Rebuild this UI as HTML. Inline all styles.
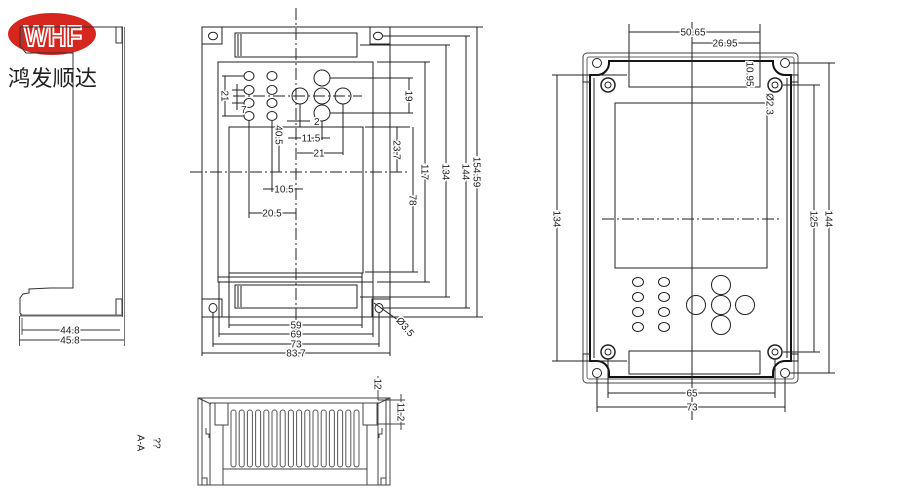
<!DOCTYPE html>
<html><head><meta charset="utf-8"><style>
html,body{margin:0;padding:0;background:#fff;}
svg{display:block;}
text{font-family:"Liberation Sans",sans-serif;font-size:10px;fill:#222;}
.h{stroke:#fff;stroke-width:3;paint-order:stroke;}
</style></head><body>
<svg width="900" height="500" viewBox="0 0 900 500" xmlns="http://www.w3.org/2000/svg">
<rect width="900" height="500" fill="#fff"/>

<!-- LOGO -->
<ellipse cx="52" cy="34" rx="44" ry="21" fill="#d6261e"/>
<text x="53" y="46" text-anchor="middle" textLength="58" lengthAdjust="spacingAndGlyphs" style="font-size:29px;font-weight:bold;fill:none;stroke:#fff;stroke-width:2">WHF</text>
<text x="8" y="86" textLength="89" lengthAdjust="spacingAndGlyphs" style="font-family:'Liberation Sans','Noto Sans CJK SC',sans-serif;font-size:22px;fill:#222">鸿发顺达</text>

<!-- LEFT SIDE VIEW -->
<g fill="none" stroke="#333" stroke-width="1">
<line x1="20" y1="27" x2="123" y2="27"/>
<line x1="122.5" y1="27" x2="122.5" y2="317" stroke="#555"/>
<line x1="124.5" y1="27" x2="124.5" y2="346" stroke="#777"/>
<path d="M20,27 V46 L26,53 H73 V288 H50 L29,289 V293 L23,294 L20,298 V313 L22,315"/>
<path d="M23,29 V44" stroke="#555"/>
<rect x="116" y="27" width="6" height="16"/>
<rect x="116" y="299" width="6" height="16"/>
<line x1="20" y1="315.5" x2="122" y2="315.5" stroke="#666" stroke-width="2"/>
<line x1="19.5" y1="316" x2="19.5" y2="346" stroke="#555"/>
<line x1="22" y1="318" x2="22" y2="335" stroke="#555"/>
<line x1="22" y1="330" x2="120" y2="330"/>
<line x1="19.5" y1="340" x2="124" y2="340"/>
</g>
<text x="70" y="333.5" text-anchor="middle" class="h">44.8</text>
<text x="70" y="343.5" text-anchor="middle" class="h">45.8</text>

<!-- CENTER FRONT VIEW -->
<g fill="none" stroke="#222" stroke-width="1">
<rect x="202" y="27" width="188" height="290"/>
<rect x="202" y="27" width="20" height="17"/>
<rect x="370" y="27" width="20" height="17"/>
<rect x="202" y="299" width="20" height="18"/>
<rect x="372" y="299" width="18" height="18"/>
<ellipse cx="213" cy="36" rx="4.5" ry="3.8"/>
<ellipse cx="378" cy="36" rx="4.5" ry="3.8"/>
<ellipse cx="213" cy="308" rx="4" ry="4.5"/>
<ellipse cx="379" cy="308" rx="4" ry="4.5"/>
<rect x="235" y="33" width="122" height="24"/>
<line x1="238" y1="34" x2="238" y2="56"/><line x1="241" y1="34" x2="241" y2="56"/>
<rect x="235" y="285" width="122" height="23"/>
<line x1="238" y1="286" x2="238" y2="307"/><line x1="241" y1="286" x2="241" y2="307"/>
<rect x="218" y="62" width="155" height="220"/>
<rect x="229" y="127" width="134" height="146"/>
<line x1="218" y1="277" x2="362" y2="277"/>

<!-- small buttons -->
<ellipse cx="249" cy="76" rx="5" ry="4.5"/><ellipse cx="272" cy="76" rx="5" ry="4.5"/>
<ellipse cx="249" cy="90" rx="5" ry="4.5"/><ellipse cx="272" cy="90" rx="5" ry="4.5"/>
<ellipse cx="249" cy="103" rx="5" ry="4.5"/><ellipse cx="272" cy="103" rx="5" ry="4.5"/>
<ellipse cx="249" cy="116" rx="5" ry="4.5"/><ellipse cx="272" cy="116" rx="5" ry="4.5"/>
<!-- big buttons -->
<circle cx="322" cy="78" r="8"/>
<circle cx="300" cy="96" r="8"/><circle cx="322" cy="96" r="8"/><circle cx="343" cy="96" r="8"/>
<circle cx="322" cy="113" r="8"/>

<!-- centerlines -->
<line x1="296" y1="8" x2="296" y2="332" stroke-dasharray="12,3,2,3"/>
<line x1="233" y1="96" x2="362" y2="96" stroke-dasharray="12,3,2,3"/>
<line x1="190" y1="172" x2="407" y2="172" stroke-dasharray="12,3,2,3"/>

<!-- left button dims -->
<line x1="222" y1="76" x2="244" y2="76"/>
<line x1="222" y1="116" x2="244" y2="116"/>
<line x1="225" y1="76" x2="225" y2="116"/>
<line x1="232" y1="90" x2="244" y2="90"/>
<line x1="232" y1="103" x2="244" y2="103"/>
<line x1="237" y1="84" x2="237" y2="110"/>
<line x1="249" y1="121" x2="249" y2="218"/>
<line x1="272" y1="121" x2="272" y2="192"/>
<line x1="279" y1="125" x2="279" y2="172"/>
<line x1="263" y1="189" x2="303" y2="189"/>
<line x1="249" y1="213" x2="296" y2="213"/>
<!-- right button dims -->
<line x1="300" y1="104" x2="300" y2="127"/>
<line x1="322" y1="121" x2="322" y2="140"/>
<line x1="343" y1="104" x2="343" y2="155"/>
<line x1="287" y1="121" x2="310" y2="121"/>
<line x1="288" y1="138" x2="330" y2="138"/>
<line x1="297" y1="153" x2="343" y2="153"/>

<!-- right extension lines -->
<line x1="390" y1="27" x2="483" y2="27"/>
<line x1="383" y1="36" x2="470" y2="36"/>
<line x1="360" y1="45" x2="450" y2="45"/>
<line x1="377" y1="62" x2="430" y2="62"/>
<line x1="330" y1="78" x2="413" y2="78"/>
<line x1="330" y1="113" x2="413" y2="113"/>
<line x1="365" y1="127" x2="410" y2="127"/>
<line x1="365" y1="272" x2="418" y2="272"/>
<line x1="377" y1="282" x2="430" y2="282"/>
<line x1="360" y1="297" x2="450" y2="297"/>
<line x1="383" y1="308" x2="470" y2="308"/>
<line x1="390" y1="317" x2="483" y2="317"/>
<line x1="409" y1="78" x2="409" y2="113"/>
<line x1="397" y1="127" x2="397" y2="172"/>
<line x1="413" y1="127" x2="413" y2="272"/>
<line x1="425" y1="62" x2="425" y2="282"/>
<line x1="446" y1="45" x2="446" y2="297"/>
<line x1="466" y1="36" x2="466" y2="308"/>
<line x1="477" y1="27" x2="477" y2="317"/>

<!-- bottom dims -->
<line x1="202" y1="317" x2="202" y2="356"/>
<line x1="213" y1="313" x2="213" y2="347"/>
<line x1="219" y1="282" x2="219" y2="337"/>
<line x1="229" y1="273" x2="229" y2="328"/>
<line x1="362" y1="273" x2="362" y2="328"/>
<line x1="373" y1="282" x2="373" y2="337"/>
<line x1="379" y1="313" x2="379" y2="347"/>
<line x1="390" y1="317" x2="390" y2="356"/>
<line x1="229" y1="325" x2="362" y2="325"/>
<line x1="219" y1="334" x2="373" y2="334"/>
<line x1="213" y1="344" x2="379" y2="344"/>
<line x1="202" y1="353" x2="390" y2="353"/>
<line x1="374" y1="303" x2="405" y2="325"/>
</g>
<text x="225" y="96" text-anchor="middle" transform="rotate(90 225 96)" dy="3.5" class="h">21</text>
<text x="241" y="113" class="h">7</text>
<text x="279" y="135" text-anchor="middle" transform="rotate(90 279 135)" dy="3.5" class="h">40.5</text>
<text x="284" y="192.5" text-anchor="middle" class="h">10.5</text>
<text x="272" y="216.5" text-anchor="middle" class="h">20.5</text>
<text x="314" y="125" class="h">2</text>
<text x="311" y="141.5" text-anchor="middle" class="h">11.5</text>
<text x="319" y="156.5" text-anchor="middle" class="h">21</text>
<text x="409" y="96" text-anchor="middle" transform="rotate(90 409 96)" dy="3.5" class="h">19</text>
<text x="397" y="150" text-anchor="middle" transform="rotate(90 397 150)" dy="3.5" class="h">23.7</text>
<text x="413" y="200" text-anchor="middle" transform="rotate(90 413 200)" dy="3.5" class="h">78</text>
<text x="425" y="172" text-anchor="middle" transform="rotate(90 425 172)" dy="3.5" class="h">117</text>
<text x="446" y="172" text-anchor="middle" transform="rotate(90 446 172)" dy="3.5" class="h">134</text>
<text x="466" y="172" text-anchor="middle" transform="rotate(90 466 172)" dy="3.5" class="h">144</text>
<text x="477" y="172" text-anchor="middle" transform="rotate(90 477 172)" dy="3.5" class="h">154.59</text>
<text x="296" y="328.5" text-anchor="middle" class="h">59</text>
<text x="296" y="337.5" text-anchor="middle" class="h">69</text>
<text x="296" y="347.5" text-anchor="middle" class="h">73</text>
<text x="296" y="356.5" text-anchor="middle" class="h">83.7</text>
<text x="405" y="327" text-anchor="middle" transform="rotate(50 405 327)" dy="3" class="h">Ø3.5</text>

<!-- BOTTOM SECTION VIEW -->
<g fill="none" stroke="#444" stroke-width="1">
<rect x="198" y="398" width="192" height="87"/>
<line x1="198" y1="398" x2="211" y2="404"/>
<line x1="390" y1="398" x2="377" y2="404"/>
<line x1="210" y1="403" x2="380" y2="403"/>
<line x1="202" y1="398" x2="202" y2="485"/>
<line x1="210" y1="404" x2="210" y2="485"/>
<line x1="386" y1="398" x2="386" y2="485"/>
<line x1="378" y1="404" x2="378" y2="485"/>
<rect x="215" y="403" width="13" height="22"/>
<rect x="363" y="403" width="14" height="22"/>
<line x1="223" y1="425" x2="223" y2="485"/>
<line x1="367" y1="425" x2="367" y2="485"/>
<line x1="223" y1="469" x2="367" y2="469"/>
<path d="M206,428 v6 h3 v4 M382,428 v6 h-3 v4"/>
<rect x="202" y="478" width="5" height="7"/>
<rect x="381" y="478" width="5" height="7"/>
<g stroke="#555">
<rect x="231" y="410" width="5" height="57" rx="2.5"/>
<rect x="239.2" y="410" width="5" height="57" rx="2.5"/>
<rect x="247.4" y="410" width="5" height="57" rx="2.5"/>
<rect x="255.6" y="410" width="5" height="57" rx="2.5"/>
<rect x="263.8" y="410" width="5" height="57" rx="2.5"/>
<rect x="272" y="410" width="5" height="57" rx="2.5"/>
<rect x="280.2" y="410" width="5" height="57" rx="2.5"/>
<rect x="288.4" y="410" width="5" height="57" rx="2.5"/>
<rect x="296.6" y="410" width="5" height="57" rx="2.5"/>
<rect x="304.8" y="410" width="5" height="57" rx="2.5"/>
<rect x="313" y="410" width="5" height="57" rx="2.5"/>
<rect x="321.2" y="410" width="5" height="57" rx="2.5"/>
<rect x="329.4" y="410" width="5" height="57" rx="2.5"/>
<rect x="337.6" y="410" width="5" height="57" rx="2.5"/>
<rect x="345.8" y="410" width="5" height="57" rx="2.5"/>
<rect x="354" y="410" width="5" height="57" rx="2.5"/>
</g>
<line x1="378" y1="376" x2="378" y2="400"/>
<line x1="378" y1="400" x2="405" y2="400"/>
<line x1="378" y1="424" x2="405" y2="424"/>
<line x1="401" y1="394" x2="401" y2="430"/>
</g>
<text x="378" y="384" text-anchor="middle" transform="rotate(90 378 384)" dy="3.5" class="h">12</text>
<text x="401" y="412" text-anchor="middle" transform="rotate(90 401 412)" dy="3.5" class="h">11.2</text>
<text x="157" y="443" text-anchor="middle" transform="rotate(90 157 443)" dy="3.5">??</text>
<text x="141" y="443" text-anchor="middle" transform="rotate(90 141 443)" dy="3.5">A-A</text>

<!-- RIGHT BACK VIEW -->
<g fill="none" stroke="#222" stroke-width="1">
<rect x="583" y="53" width="215" height="330" rx="4" stroke="#444"/>
<rect x="587" y="57" width="207" height="322" rx="2" stroke="#666"/>
<path d="M590,75 H597 A12 12 0 0 0 609 63 V61 H773 V63 A12 12 0 0 0 785 75 H791 V361 H785 A12 12 0 0 0 773 373 V377 H609 V373 A12 12 0 0 0 597 361 H590 Z" stroke="#111" stroke-width="2"/>
<line x1="594" y1="78" x2="594" y2="358"/>
<line x1="787" y1="78" x2="787" y2="358"/>
<rect x="583" y="75" width="7" height="7"/>
<rect x="791" y="75" width="7" height="7"/>
<rect x="583" y="354" width="7" height="7"/>
<rect x="791" y="354" width="7" height="7"/>
<circle cx="597" cy="63" r="4.5"/>
<circle cx="785" cy="63" r="4.5"/>
<circle cx="597" cy="373" r="4.5"/>
<circle cx="785" cy="373" r="4.5"/>
<circle cx="608" cy="85" r="7" stroke-width="1.5"/><circle cx="608" cy="85" r="3"/>
<circle cx="775" cy="85" r="7" stroke-width="1.5"/><circle cx="775" cy="85" r="3"/>
<circle cx="608" cy="352" r="7" stroke-width="1.5"/><circle cx="608" cy="352" r="3"/>
<circle cx="775" cy="352" r="7" stroke-width="1.5"/><circle cx="775" cy="352" r="3"/>
<rect x="629" y="61" width="131" height="26"/>
<rect x="629" y="351" width="131" height="23"/>
<rect x="615" y="103" width="152" height="165"/>
<line x1="692" y1="22" x2="692" y2="420"/>
<line x1="602" y1="219" x2="780" y2="219" stroke-dasharray="12,3,2,3"/>

<ellipse cx="638" cy="282" rx="5.5" ry="4.5"/><ellipse cx="664" cy="282" rx="5.5" ry="4.5"/>
<ellipse cx="638" cy="297" rx="5.5" ry="4.5"/><ellipse cx="664" cy="297" rx="5.5" ry="4.5"/>
<ellipse cx="638" cy="312" rx="5.5" ry="4.5"/><ellipse cx="664" cy="312" rx="5.5" ry="4.5"/>
<ellipse cx="638" cy="327" rx="5.5" ry="4.5"/><ellipse cx="664" cy="327" rx="5.5" ry="4.5"/>
<circle cx="721" cy="285" r="9.5"/>
<circle cx="696" cy="305" r="9.5"/><circle cx="721" cy="305" r="9.5"/><circle cx="745" cy="305" r="9.5"/>
<circle cx="721" cy="325" r="9.5"/>

<!-- dims -->
<line x1="629" y1="24" x2="629" y2="61"/>
<line x1="760" y1="24" x2="760" y2="61"/>
<line x1="629" y1="32" x2="760" y2="32"/>
<line x1="692" y1="43" x2="760" y2="43"/>
<line x1="746" y1="64" x2="746" y2="86"/>
<line x1="552" y1="75" x2="627" y2="75"/>
<line x1="552" y1="361" x2="627" y2="361"/>
<line x1="557" y1="75" x2="557" y2="361"/>
<line x1="783" y1="85" x2="820" y2="85"/>
<line x1="783" y1="352" x2="820" y2="352"/>
<line x1="814" y1="85" x2="814" y2="352"/>
<line x1="790" y1="63" x2="835" y2="63"/>
<line x1="790" y1="373" x2="835" y2="373"/>
<line x1="829" y1="63" x2="829" y2="373"/>
<line x1="608" y1="359" x2="608" y2="398"/>
<line x1="775" y1="359" x2="775" y2="398"/>
<line x1="597" y1="378" x2="597" y2="412"/>
<line x1="785" y1="378" x2="785" y2="412"/>
<line x1="608" y1="393" x2="775" y2="393"/>
<line x1="597" y1="407" x2="785" y2="407"/>
</g>
<text x="693" y="35.5" text-anchor="middle" class="h">50.65</text>
<text x="725" y="46.5" text-anchor="middle" class="h">26.95</text>
<text x="750" y="74" text-anchor="middle" transform="rotate(90 750 74)" dy="3.5" class="h">10.95</text>
<text x="770" y="104" text-anchor="middle" transform="rotate(90 770 104)" dy="3.5" class="h">Ø2.3</text>
<text x="557" y="219" text-anchor="middle" transform="rotate(90 557 219)" dy="3.5" class="h">134</text>
<text x="814" y="219" text-anchor="middle" transform="rotate(90 814 219)" dy="3.5" class="h">125</text>
<text x="829" y="219" text-anchor="middle" transform="rotate(90 829 219)" dy="3.5" class="h">144</text>
<text x="692" y="396.5" text-anchor="middle" class="h">65</text>
<text x="692" y="410.5" text-anchor="middle" class="h">73</text>
</svg>
</body></html>
